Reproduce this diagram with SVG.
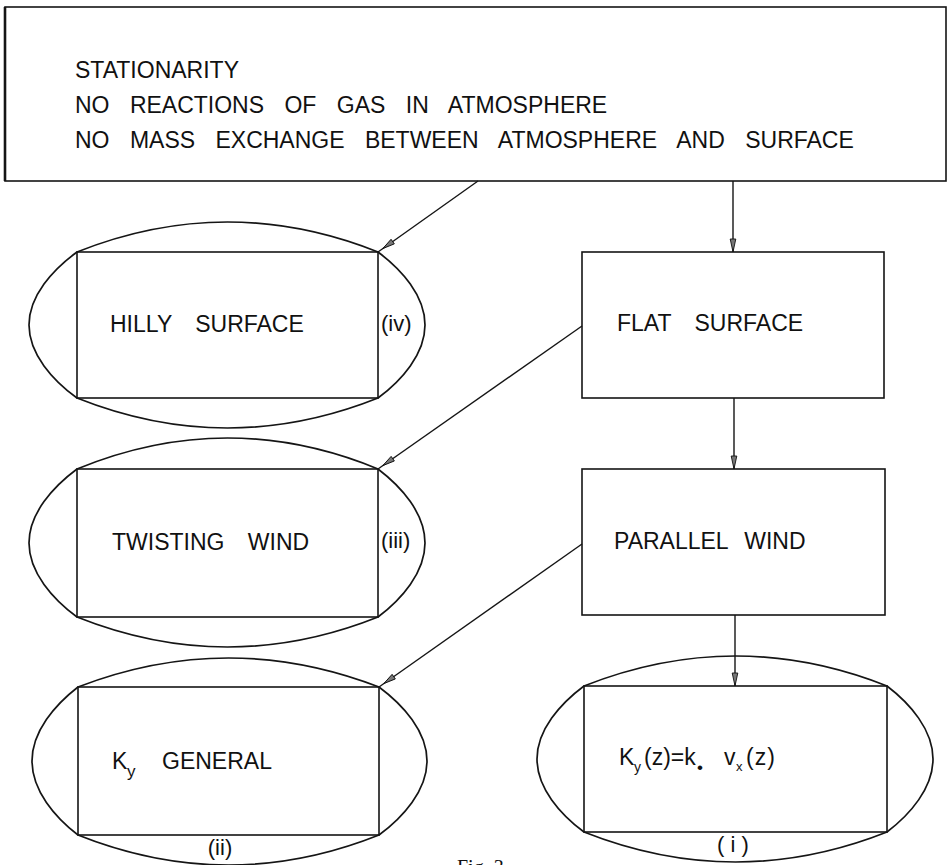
<svg xmlns="http://www.w3.org/2000/svg" width="952" height="865" viewBox="0 0 952 865">
<style>
.box{fill:none;stroke:#151515;stroke-width:1.6}
.oval{fill:none;stroke:#151515;stroke-width:1.7}
.lbl{font-family:"Liberation Sans","DejaVu Sans",sans-serif;font-size:23px;fill:#111;word-spacing:17px}
.top{font-family:"Liberation Sans","DejaVu Sans",sans-serif;font-size:23px;fill:#111;word-spacing:14px}
.num{font-family:"Liberation Sans","DejaVu Sans",sans-serif;font-size:22px;fill:#111}
.sub{font-family:"Liberation Sans","DejaVu Sans",sans-serif;fill:#111}
.edge{fill:none;stroke:#151515;stroke-width:1.4}
.cap{font-family:"Liberation Serif","Times New Roman",serif;font-size:20px;fill:#111}
</style>
<defs>
<marker id="tip" markerUnits="userSpaceOnUse" viewBox="-14 -4 16 8" markerWidth="16" markerHeight="8" refX="0" refY="0" orient="auto">
<path d="M0,0 L-13,-2.8 L-13,2.8 Z" fill="#777" stroke="#111" stroke-width="0.9"/>
</marker>
<marker id="tipoff" markerUnits="userSpaceOnUse" viewBox="-20 -4 22 8" markerWidth="22" markerHeight="8" refX="0" refY="0" orient="auto">
<path d="M-6,0 L-18,-2.8 L-18,2.8 Z" fill="#777" stroke="#111" stroke-width="0.9"/>
</marker>
</defs>

<g id="assumptions">
<rect class="box" x="5" y="7" width="941" height="174"/>
<line x1="5" y1="7" x2="5" y2="181" stroke="#151515" stroke-width="2.6"/>
<text class="top" x="75" y="78">STATIONARITY</text>
<text class="top" x="75" y="113">NO REACTIONS OF GAS IN ATMOSPHERE</text>
<text class="top" x="75" y="148">NO MASS EXCHANGE BETWEEN ATMOSPHERE AND SURFACE</text>
</g>

<g id="hilly">
<path class="oval" d="M77,252 Q227.5,192 378,252 C401.5,269.5 425,295.8 425,325 C425,354.2 401.5,380.5 378,398 Q227.5,458 77,398 C53,380.5 29,354.2 29,325 C29,295.8 53,269.5 77,252 Z"/>
<rect class="box" x="77" y="252" width="301" height="146"/>
<text class="lbl" x="110" y="332">HILLY SURFACE</text>
<text class="num" x="381" y="331">(iv)</text>
</g>

<g id="flat">
<rect class="box" x="582" y="252" width="302" height="146"/>
<text class="lbl" x="617" y="331">FLAT SURFACE</text>
</g>

<g id="twisting">
<path class="oval" d="M77,469 Q227.5,407 378,469 C401.5,486.8 425,513.4 425,543 C425,572.6 401.5,599.2 378,617 Q227.5,677 77,617 C53,599.2 29,572.6 29,543 C29,513.4 53,486.8 77,469 Z"/>
<rect class="box" x="77" y="469" width="301" height="148"/>
<text class="lbl" x="112" y="550">TWISTING WIND</text>
<text class="num" x="381" y="548">(iii)</text>
</g>

<g id="parallel">
<rect class="box" x="582" y="469" width="303" height="146"/>
<text class="lbl" x="614" y="549" style="word-spacing:10px">PARALLEL WIND</text>
</g>

<g id="kgeneral">
<path class="oval" d="M78,687 Q228.5,629 379,687 C403,704.8 427,731.4 427,761 C427,790.6 403,817.2 379,835 Q228.5,895 78,835 C55,817.2 32,790.6 32,761 C32,731.4 55,704.8 78,687 Z"/>
<rect class="box" x="78" y="687" width="301" height="148"/>
<text class="lbl" x="112" y="769">K</text>
<text class="sub" x="127" y="777" font-size="17">y</text>
<text class="lbl" x="162" y="769">GENERAL</text>
<text class="num" x="220" y="855" text-anchor="middle">(ii)</text>
</g>

<g id="kformula">
<path class="oval" d="M584,686 Q735.5,626 887,686 C910,703.5 933,729.8 933,759 C933,788.2 910,814.5 887,832 Q735.5,892 584,832 C560.5,814.5 537,788.2 537,759 C537,729.8 560.5,703.5 584,686 Z"/>
<rect class="box" x="584" y="686" width="303" height="146"/>
<text class="lbl" x="619" y="765">K</text>
<text class="sub" x="634" y="772" font-size="14">y</text>
<text class="lbl" x="644" y="765">(z)=k</text>
<text class="sub" x="697" y="773" font-size="17">•</text>
<text class="lbl" x="724" y="765">v</text>
<text class="sub" x="736" y="771" font-size="13">x</text>
<text class="lbl" x="746" y="765" style="letter-spacing:1px">(z)</text>
<text class="num" x="733" y="852" text-anchor="middle">( i )</text>
</g>

<g id="connectors">
<line class="edge" x1="478" y1="181" x2="378" y2="252" marker-end="url(#tipoff)"/>
<line class="edge" x1="733" y1="181" x2="733" y2="252" marker-end="url(#tip)"/>
<line class="edge" x1="582" y1="326" x2="378" y2="469" marker-end="url(#tipoff)"/>
<line class="edge" x1="734" y1="398" x2="734" y2="469" marker-end="url(#tip)"/>
<line class="edge" x1="582" y1="544" x2="379" y2="687" marker-end="url(#tipoff)"/>
<line class="edge" x1="735" y1="615" x2="735" y2="686" marker-end="url(#tip)"/>
</g>

<text class="cap" x="457" y="874">Fig. 3</text>
</svg>
